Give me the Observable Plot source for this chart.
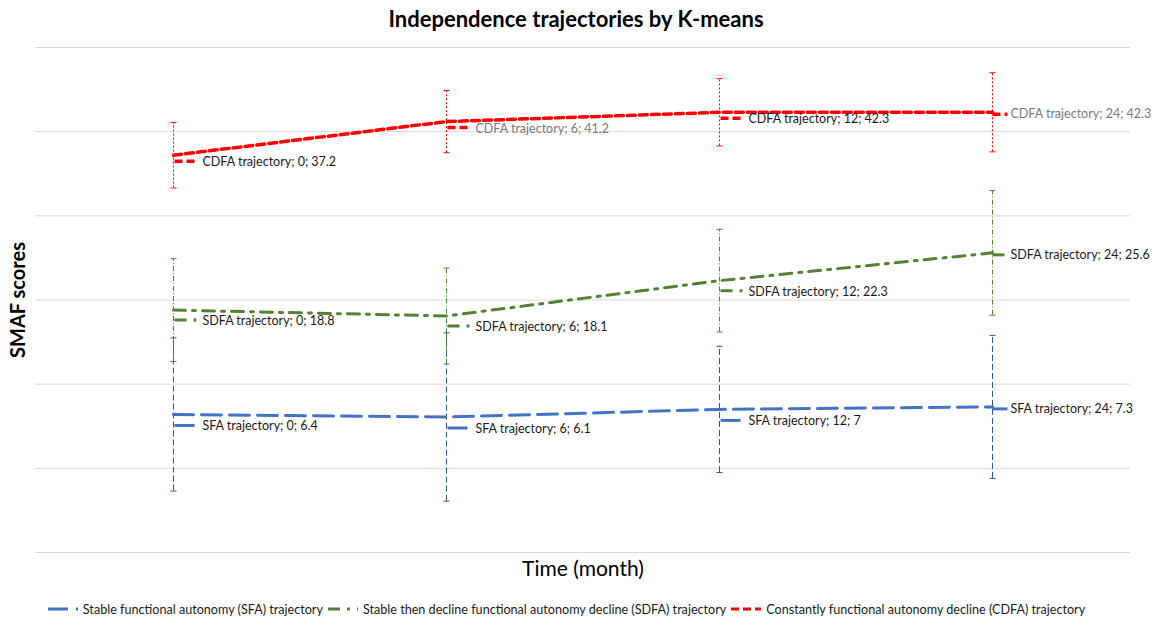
<!DOCTYPE html>
<html>
<head>
<meta charset="utf-8">
<script src="https://cdn.jsdelivr.net/npm/d3@7"></script>
<script src="https://cdn.jsdelivr.net/npm/@observablehq/plot@0.6"></script>
<style>
  html, body { margin: 0; padding: 0; background: #fff; }
  body { width: 1152px; height: 626px; overflow: hidden; font-family: Lato, "Open Sans", sans-serif; }
  #title { height: 36px; line-height: 38px; text-align: center; font-weight: bold; font-size: 22px; color: #000; }
  #legend { height: 34px; display: flex; justify-content: center; align-items: center; font-size: 12.6px; color: #1a1a1a; gap: 4px; margin-left: -20px; }
  #legend .item { display: flex; align-items: center; gap: 4px; }
</style>
</head>
<body>
<div id="title">Independence trajectories by K-means</div>
<div id="chart"></div>
<div id="legend"></div>
<script>
// ---- data ----
const months = [0, 6, 12, 24];
const seriesKeys = ["SFA", "SDFA", "CDFA"];
const seriesNames = [
  "Stable functional autonomy (SFA) trajectory",
  "Stable then decline functional autonomy decline (SDFA) trajectory",
  "Constantly functional autonomy decline (CDFA) trajectory"
];
const sfaMean = [6.4, 6.1, 7, 7.3];
const sdfaMean = [18.8, 18.1, 22.3, 25.6];
const cdfaMean = [37.2, 41.2, 42.3, 42.3];
const sfaErr = [9.1, 10.0, 7.5, 8.5];
const sdfaErr = [6.1, 5.7, 6.1, 7.4];
const cdfaErr = [3.9, 3.7, 4.0, 4.7];
const yTicks = [-10, 0, 10, 20, 30, 40, 50];

// ---- styles ----
const style = {
  SFA:  {color: "#4472C4", errColor: "#2F5597", dash: "20,8", errDash: "6,3", width: 3, labelDy: 11},
  SDFA: {color: "#548235", errColor: "#548235", dash: "12,7,3,7", errDash: "5,2,1,2", width: 3, labelDy: 10},
  CDFA: {color: "#FF0000", errColor: "#FF0000", dash: "8,4", errDash: "2,2", width: 3.5, labelDy: 6}
};

const means = {SFA: sfaMean, SDFA: sdfaMean, CDFA: cdfaMean};
const errs = {SFA: sfaErr, SDFA: sdfaErr, CDFA: cdfaErr};
const rows = [];
for (const s of seriesKeys) {
  months.forEach((m, i) => rows.push({series: s, month: m, value: means[s][i], lo: means[s][i] - errs[s][i], hi: means[s][i] + errs[s][i]}));
}

// horizontal segment symbols (drawn relative to the point)
const hseg = (a, b) => ({draw(ctx) { ctx.moveTo(a, 0); ctx.lineTo(b, 0); }});
const capSym = hseg(-3, 3);
const keySym = hseg(1, 25);
const keySym24 = hseg(0, 15);

const marks = [Plot.gridY(yTicks, {stroke: "#d9d9d9", strokeOpacity: 1, strokeWidth: 1})];
for (const s of seriesKeys) {
  const st = style[s];
  const d = rows.filter(r => r.series === s);
  marks.push(Plot.ruleX(d, {x: "month", y1: "lo", y2: "hi", stroke: st.errColor, strokeWidth: 1, strokeDasharray: st.errDash}));
  marks.push(Plot.dot(d, {x: "month", y: "lo", symbol: capSym, fill: "none", stroke: st.errColor, strokeWidth: 1}));
  marks.push(Plot.dot(d, {x: "month", y: "hi", symbol: capSym, fill: "none", stroke: st.errColor, strokeWidth: 1}));
}
for (const s of seriesKeys) {
  const st = style[s];
  const d = rows.filter(r => r.series === s);
  const early = d.filter(r => r.month !== 24);
  const last = d.filter(r => r.month === 24);
  const label = r => `${r.series} trajectory; ${r.month}; ${r.value}`;
  const fill = r => (r.series === "CDFA" && (r.month === 6 || r.month === 24)) ? "#7a7a7a" : "#1a1a1a";
  marks.push(
    Plot.line(d, {x: "month", y: "value", stroke: st.color, strokeWidth: st.width, strokeDasharray: st.dash}),
    Plot.dot(early, {x: "month", y: "value", dy: st.labelDy, symbol: keySym, fill: "none", stroke: st.color, strokeWidth: st.width, strokeDasharray: st.dash}),
    Plot.dot(last, {x: "month", y: "value", dy: 2, symbol: keySym24, fill: "none", stroke: st.color, strokeWidth: st.width, strokeDasharray: st.dash}),
    Plot.text(early, {x: "month", y: "value", text: label, dx: 29, dy: st.labelDy + 1, textAnchor: "start", fill, fontSize: 12.5}),
    Plot.text(last, {x: "month", y: "value", text: label, dx: 18, dy: 2, textAnchor: "start", fill, fontSize: 12.5})
  );
}
marks.push(
  Plot.text(["Time (month)"], {frameAnchor: "bottom", dy: 23, fontSize: 21, fill: "#000"}),
  Plot.text(["SMAF scores"], {frameAnchor: "left", rotate: -90, dx: -17, textAnchor: "middle", fontSize: 20, fontWeight: "bold", fill: "#000"})
);

const chart = Plot.plot({
  width: 1152,
  height: 556,
  marginTop: 11,
  marginBottom: 40,
  marginLeft: 35,
  marginRight: 22,
  style: {fontFamily: "Lato, 'Open Sans', sans-serif", background: "#fff"},
  x: {type: "point", domain: months, padding: 0.5, axis: null},
  y: {domain: [-10, 50], axis: null},
  marks
});
document.getElementById("chart").appendChild(chart);

// ---- legend ----
const leg = document.getElementById("legend");
seriesKeys.forEach((s, i) => {
  const st = style[s];
  const item = document.createElement("div");
  item.className = "item";
  item.innerHTML = `<svg width="32" height="8"><line x1="1" y1="4" x2="31" y2="4" stroke="${st.color}" stroke-width="3" stroke-dasharray="${st.dash}"/></svg><span>${seriesNames[i]}</span>`;
  leg.appendChild(item);
});
</script>
</body>
</html>
